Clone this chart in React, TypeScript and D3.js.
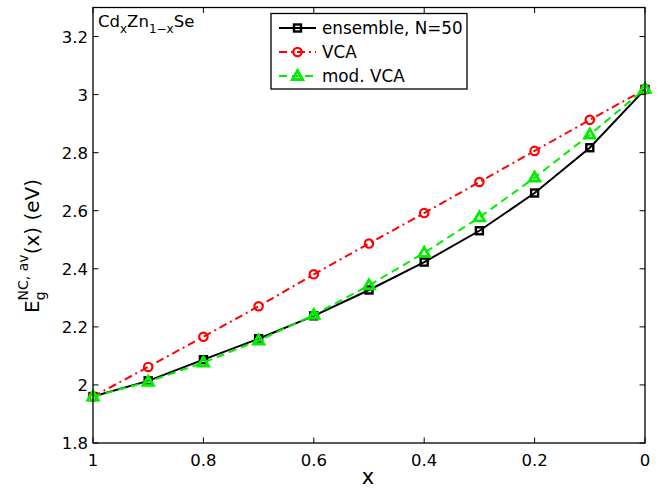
import React from "react";
import * as d3 from "d3";

const xValues = [1, 0.9, 0.8, 0.7, 0.6, 0.5, 0.4, 0.3, 0.2, 0.1, 0];
const ensemble = [1.96, 2.014, 2.087, 2.159, 2.238, 2.327, 2.423, 2.531, 2.661, 2.817, 3.018];
const vca = [1.96, 2.062, 2.166, 2.271, 2.381, 2.487, 2.592, 2.699, 2.806, 2.913, 3.018];
const modVca = [1.96, 2.011, 2.077, 2.153, 2.241, 2.343, 2.455, 2.577, 2.714, 2.862, 3.02];
const xTicks = [1, 0.8, 0.6, 0.4, 0.2, 0];
const yTicks = [1.8, 2, 2.2, 2.4, 2.6, 2.8, 3, 3.2];
const legendLabels = ["ensemble, N=50", "VCA", "mod. VCA"];

const W = 666, H = 490;
const L = 93, R = 645, T = 7.5, B = 443;
const FONT = "'DejaVu Sans', sans-serif";

export default function App() {
  const x = d3.scaleLinear().domain([1, 0]).range([L, R]);
  const y = d3.scaleLinear().domain([1.8, 3.3]).range([B, T]);
  const line = d3.line<[number, number]>().x(d => x(d[0])).y(d => y(d[1]));
  const pts = (vals: number[]) => xValues.map((xv, i) => [xv, vals[i]] as [number, number]);
  const fmt = (v: number) => (Number.isInteger(v) ? String(v) : String(+v.toFixed(1)));
  const tick = 5.5;

  const square = (cx: number, cy: number, k: string) => (
    <rect key={k} x={cx - 3.5} y={cy - 3.5} width={7} height={7} fill="none" stroke="#000" strokeWidth={2.4} />
  );
  const circle = (cx: number, cy: number, k: string) => (
    <circle key={k} cx={cx} cy={cy} r={4.2} fill="none" stroke="#ff0000" strokeWidth={2.2} />
  );
  const tri = (cx: number, cy: number, k: string) => (
    <path key={k} d={`M${cx},${cy - 5.5}L${cx + 5.2},${cy + 3.5}L${cx - 5.2},${cy + 3.5}Z`} fill="none" stroke="#00ee00" strokeWidth={2.8} strokeLinejoin="miter" />
  );

  const series = [
    { vals: ensemble, color: "#000", dash: undefined as string | undefined, marker: square },
    { vals: vca, color: "#ff0000", dash: "8,4,2,4", marker: circle },
    { vals: modVca, color: "#00ee00", dash: "8,5", marker: tri },
  ];

  const legendRows = [28, 52, 76];

  return (
    <svg width={W} height={H} style={{ display: "block", position: "absolute", left: 0, top: 0, background: "#fff" }}>
      <rect x={0} y={0} width={W} height={H} fill="#fff" />
      {xTicks.map((t, i) => (
        <g key={"xt" + i}>
          <line x1={x(t)} x2={x(t)} y1={B} y2={B - tick} stroke="#000" strokeWidth={1} />
          <line x1={x(t)} x2={x(t)} y1={T} y2={T + tick} stroke="#000" strokeWidth={1} />
          <text x={x(t)} y={466} textAnchor="middle" fontFamily={FONT} fontSize={16.5} fill="#000">{fmt(t)}</text>
        </g>
      ))}
      {yTicks.map((t, i) => (
        <g key={"yt" + i}>
          <line x1={L} x2={L + tick} y1={y(t)} y2={y(t)} stroke="#000" strokeWidth={1} />
          <line x1={R} x2={R - tick} y1={y(t)} y2={y(t)} stroke="#000" strokeWidth={1} />
          <text x={88} y={y(t) + 6} textAnchor="end" fontFamily={FONT} fontSize={16.5} fill="#000">{fmt(t)}</text>
        </g>
      ))}
      {series.map((s, si) => (
        <g key={"s" + si}>
          <path d={line(pts(s.vals)) || ""} fill="none" stroke={s.color} strokeWidth={2} strokeDasharray={s.dash} />
          {pts(s.vals).map((p, i) => s.marker(x(p[0]), y(p[1]), `m${si}-${i}`))}
        </g>
      ))}
      <rect x={L} y={T} width={R - L} height={B - T} fill="none" stroke="#000" strokeWidth={1.3} />
      <text x={98} y={27} fontFamily={FONT} fontSize={16.5} fill="#000">
        Cd<tspan dy={6} fontSize={12}>x</tspan>
        <tspan dy={-6}>Zn</tspan>
        <tspan dy={6} fontSize={12}>1−x</tspan>
        <tspan dy={-6}>Se</tspan>
      </text>
      <rect x={271} y={13.5} width={196} height={75.5} fill="#fff" stroke="#000" strokeWidth={1.3} />
      {series.map((s, i) => (
        <g key={"lg" + i}>
          <line x1={279} x2={316} y1={legendRows[i]} y2={legendRows[i]} stroke={s.color} strokeWidth={2} strokeDasharray={s.dash} />
          {s.marker(297.5, legendRows[i], "lm" + i)}
          <text x={322} y={legendRows[i] + 6} fontFamily={FONT} fontSize={16.8} fill="#000">{legendLabels[i]}</text>
        </g>
      ))}
      <text x={368} y={484} textAnchor="middle" fontFamily={FONT} fontSize={21} fill="#000">x</text>
      <g transform={`translate(39,313) rotate(-90)`}>
        <text x={0} y={0} fontFamily={FONT} fontSize={20} fill="#000">
          E<tspan dy={6} fontSize={14}>g</tspan>
          <tspan dx={-8.9} dy={-17} fontSize={14}>NC, av</tspan>
          <tspan dy={11}>(x) (eV)</tspan>
        </text>
      </g>
    </svg>
  );
}
